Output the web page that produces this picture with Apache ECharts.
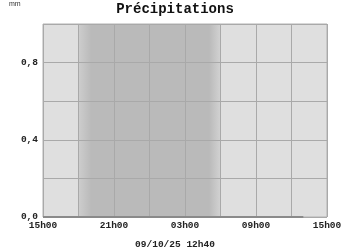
<!DOCTYPE html>
<html>
<head>
<meta charset="utf-8">
<script src="https://cdn.jsdelivr.net/npm/echarts@6/dist/echarts.min.js"></script>
<style>html,body{margin:0;padding:0;background:#fff}#c{width:350px;height:250px}</style>
</head>
<body>
<div id="c"></div>
<script>
// minutes since 15h00 of the first day
var times = [0, 60, 120, 180, 240, 300, 360, 420, 480, 540, 600, 660, 720, 780, 840, 900, 960, 1020, 1080, 1140, 1200, 1260, 1320];
var rain  = [0, 0, 0, 0, 0, 0, 0, 0, 0, 0, 0, 0, 0, 0, 0, 0, 0, 0, 0, 0, 0, 0, 0];
var xTickLabels = ['15h00', '', '21h00', '', '03h00', '', '09h00', '', '15h00'];
var yTickLabels = ['0,0', '', '0,4', '', '0,8', ''];
var nightStart = 180, nightEnd = 900;
var titleText = 'Précipitations';
var unitText = 'mm';
var dateText = '09/10/25 12h40';

var font = '"Liberation Mono", "DejaVu Sans Mono", monospace';
var chart = echarts.init(document.getElementById('c'), null, {renderer: 'canvas'});
var pts = times.map(function (t, i) { return [t, rain[i]]; });
chart.setOption({
  animation: false,
  title: {
    text: titleText, left: 'center', top: 2, padding: 0,
    textStyle: {fontFamily: font, fontWeight: 'bold', fontSize: 14, color: '#111'}
  },
  graphic: [
    {type: 'text', left: 9, top: 1, style: {text: unitText, font: '7px "Liberation Sans", sans-serif', fill: '#333'}},
    {type: 'text', left: 'center', top: 240, style: {text: dateText, font: 'bold 9.5px ' + font, fill: '#222'}}
  ],
  grid: {left: 43, right: 23, top: 24, bottom: 33, show: true, backgroundColor: '#dfdfdf', borderColor: '#b0b0b0', borderWidth: 1},
  xAxis: {
    type: 'value', min: 0, max: 1440, interval: 180, z: 3,
    axisLine: {show: false}, axisTick: {show: false},
    splitLine: {show: true, lineStyle: {color: '#a9a9a9', width: 1}},
    axisLabel: {
      margin: 4, fontFamily: font, fontWeight: 'bold', fontSize: 9.5, color: '#222',
      formatter: function (v) { return xTickLabels[Math.round(v / 180)] || ''; }
    }
  },
  yAxis: {
    type: 'value', min: 0, max: 1, interval: 0.2, z: 3,
    axisLine: {show: false}, axisTick: {show: false},
    splitLine: {show: true, lineStyle: {color: '#a9a9a9', width: 1}},
    axisLabel: {
      margin: 5, fontFamily: font, fontWeight: 'bold', fontSize: 9.5, color: '#222',
      formatter: function (v) { return yTickLabels[Math.round(v / 0.2)] || ''; }
    }
  },
  series: [{
    type: 'line', data: pts, showSymbol: false, z: 5,
    lineStyle: {color: '#8a8a8a', width: 2},
    markArea: {
      silent: true, z: 1,
      itemStyle: {
        color: new echarts.graphic.LinearGradient(0, 0, 1, 0, [
          {offset: 0, color: '#cdcdcd'},
          {offset: 0.09, color: '#bababa'},
          {offset: 0.92, color: '#bababa'},
          {offset: 1, color: '#d2d2d2'}
        ])
      },
      data: [[{xAxis: nightStart}, {xAxis: nightEnd}]]
    }
  }]
});
</script>
</body>
</html>
